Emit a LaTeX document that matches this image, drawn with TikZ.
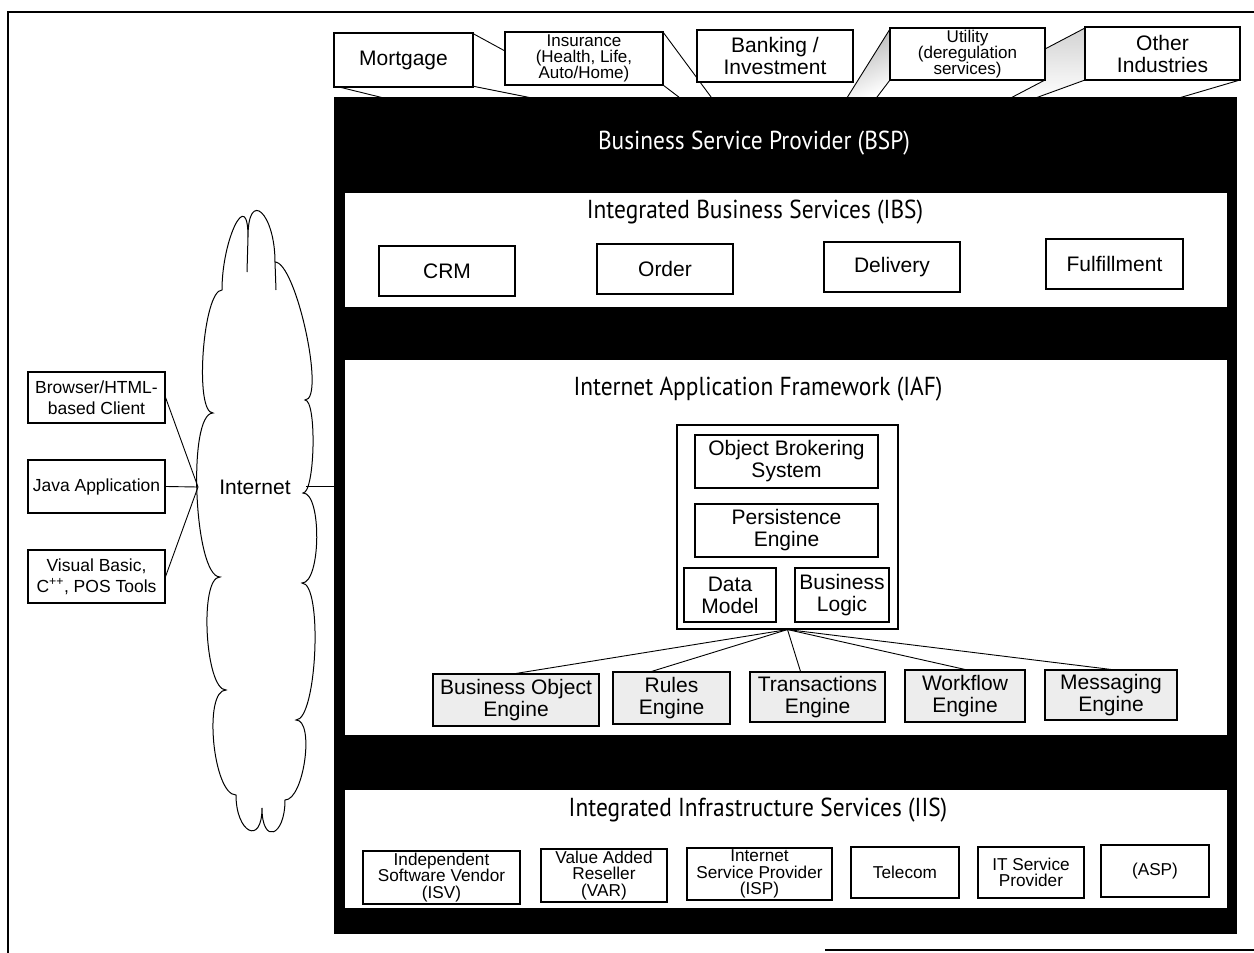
\documentclass[tikz,border=0pt]{standalone}
\usepackage{fontspec}
\setmainfont{Liberation Sans}
\newfontfamily\titlefont[FakeStretch=0.9]{PT Sans}
\usetikzlibrary{calc}

\tikzset{
  pane/.style={draw, line width=1.1pt, fill=white, align=center, inner sep=0pt},
  bigtxt/.style={font=\fontsize{21}{22}\selectfont},
  clienttxt/.style={font=\fontsize{17.5}{21}\selectfont},
  smalltxt/.style={font=\fontsize{17.2}{16.5}\selectfont},
  midtxt/.style={font=\fontsize{17}{16.2}\selectfont},
  engine/.style={pane, bigtxt, fill=gray!14},
  layer/.style={fill=white, inner sep=0pt},
  heading/.style={font=\titlefont\fontsize{26}{28}\selectfont, inner sep=0pt},
  wire/.style={line width=0.9pt},
  edge3d/.style={line width=0.9pt}
}

\begin{document}
\begin{tikzpicture}[x=1pt, y=-1pt]
\useasboundingbox (0,0) rectangle (1254,953);

% page frame
\draw[line width=2pt] (1254,12) -- (8,12) -- (8,953);
\draw[line width=1.6pt] (825,950) -- (1254,950);

% ---------- industry prisms (side and bottom faces) ----------
\shade[top color=gray!60, bottom color=white, shading angle=25]
  (890,29) -- (846,99) -- (875,99) -- (890,80) -- cycle;
\shade[top color=gray!35, bottom color=white]
  (1085,28) -- (1045,49) -- (1045,80) -- (1008,99) -- (1036,99) -- (1085,80) -- cycle;

\draw[edge3d] (472,33) -- (505,51);
\draw[edge3d] (472,86) -- (547,101);
\draw[edge3d] (335,86) -- (396,101);
\draw[edge3d] (663,32) -- (714,101);
\draw[edge3d] (663,85) -- (684,101);
\draw[edge3d] (890,29) -- (845,101);
\draw[edge3d] (890,80) -- (874,101);
\draw[edge3d] (1045,80) -- (1005,101);
\draw[edge3d] (1085,28) -- (1045,49);
\draw[edge3d] (1085,80) -- (1030,100);
\draw[edge3d] (1240,80) -- (1172,100);

% ---------- industry boxes ----------
\node[pane, bigtxt, minimum width=139, minimum height=54] (mort) at (403.5,60) {Mortgage};
\node[pane, midtxt, minimum width=158, minimum height=53] (ins) at (584,58.5) {Insurance\\(Health, Life,\\Auto/Home)};
\node[pane, bigtxt, minimum width=156, minimum height=52] (bank) at (775,56) {Banking /\\Investment};
\node[pane, midtxt, minimum width=155, minimum height=52] (util) at (967.5,54) {Utility\\(deregulation\\services)};
\node[pane, bigtxt, minimum width=155, minimum height=53] (other) at (1162.5,53.5) {Other\\Industries};

% ---------- business service provider block ----------
\node[fill=black, inner sep=0pt, minimum width=903, minimum height=837] (bsp) at (785.5,515.5) {};
\node[heading, text=white] (bsptitle) at (754,143) {Business Service Provider (BSP)};

% integrated business services
\node[layer, minimum width=882, minimum height=114] (ibs) at (786,250) {};
\node[heading] (ibstitle) at (755,212) {Integrated Business Services (IBS)};
\node[pane, bigtxt, minimum width=136, minimum height=50] (crm) at (447,271) {CRM};
\node[pane, bigtxt, minimum width=136, minimum height=50] (order) at (665,269) {Order};
\node[pane, bigtxt, minimum width=136, minimum height=50] (deliv) at (892,267) {Delivery};
\node[pane, bigtxt, minimum width=137, minimum height=50] (fulfil) at (1114.5,264) {Fulfillment};

% internet application framework
\node[layer, minimum width=882, minimum height=375] (iaf) at (786,547.5) {};
\node[heading] (iaftitle) at (758,389) {Internet Application Framework (IAF)};
\node[pane, minimum width=221, minimum height=204] (core) at (787.5,527) {};
\node[pane, bigtxt, minimum width=183, minimum height=53] (obs) at (786.5,461.5) {Object Brokering\\System};
\node[pane, bigtxt, minimum width=183, minimum height=53] (pers) at (786.5,530.5) {Persistence\\Engine};
\node[pane, bigtxt, minimum width=92, minimum height=54] (dm) at (730,595) {Data\\Model};
\node[pane, bigtxt, minimum width=94, minimum height=54] (bl) at (842,595) {Business\\Logic};

\node[engine, minimum width=166, minimum height=52] (boe) at (516,700) {Business Object\\Engine};
\node[engine, minimum width=117, minimum height=52] (rules) at (671.5,698) {Rules\\Engine};
\node[engine, minimum width=135, minimum height=50] (trans) at (817.5,697) {Transactions\\Engine};
\node[engine, minimum width=120, minimum height=52] (wf) at (965,696) {Workflow\\Engine};
\node[engine, minimum width=132, minimum height=50] (msg) at (1111,695) {Messaging\\Engine};

\draw[wire] (core.south) -- (boe.north);
\draw[wire] (core.south) -- ([xshift=-20pt]rules.north);
\draw[wire] (core.south) -- ([xshift=-17pt]trans.north);
\draw[wire] (core.south) -- (wf.north);
\draw[wire] (core.south) -- (msg.north);

% integrated infrastructure services
\node[layer, minimum width=882, minimum height=118] (iis) at (786,849) {};
\node[heading] (iistitle) at (758,810) {Integrated Infrastructure Services (IIS)};
\node[pane, smalltxt, minimum width=157, minimum height=53] (isv) at (441.5,877.5) {Independent\\Software Vendor\\(ISV)};
\node[pane, smalltxt, minimum width=126, minimum height=53] (var) at (604,875.5) {Value Added\\Reseller\\(VAR)};
\node[pane, smalltxt, minimum width=145, minimum height=52] (isp) at (759.5,874) {Internet\\Service Provider\\(ISP)};
\node[pane, smalltxt, minimum width=108, minimum height=51] (tel) at (905,872.5) {Telecom};
\node[pane, smalltxt, minimum width=106, minimum height=51] (itsp) at (1031,872.5) {IT Service\\Provider};
\node[pane, smalltxt, minimum width=108, minimum height=52] (asp) at (1155,871) {(ASP)};

% ---------- internet cloud ----------
\draw[line width=1pt, fill=white]
  (248,237) .. controls (248,188) and (275,213) .. (275,262)
  .. controls (296,262) and (326,400) .. (305,400)
  .. controls (317,400) and (315,493) .. (303,493)
  .. controls (322,493) and (321,583) .. (302,583)
  .. controls (323,583) and (317,720) .. (296,720)
  .. controls (315,720) and (304,800) .. (285,800)
  .. controls (285,837) and (262,845) .. (262,808)
  .. controls (262,846) and (236,833) .. (236,795)
  .. controls (213,795) and (203,690) .. (226,690)
  .. controls (205,690) and (199,577) .. (220,577)
  .. controls (194,577) and (187,413) .. (213,413)
  .. controls (194,413) and (203,290) .. (222,290)
  .. controls (222,239) and (248,186) .. (248,237) -- cycle;
\draw[line width=1pt] (248,237) -- (247,272);
\draw[line width=1pt] (275,262) -- (276,290);
\node[bigtxt] (net) at (255,487) {Internet};
\coordinate (netL) at (198,487);
\coordinate (netR) at (306,486);
\draw[wire] (netR) -- (netR -| bsp.west);

% ---------- clients ----------
\node[pane, clienttxt, minimum width=137, minimum height=51] (browser) at (96.5,397.5) {Browser/HTML-\\based Client};
\node[pane, clienttxt, minimum width=137, minimum height=53] (java) at (96.5,486.5) {Java Application};
\node[pane, clienttxt, minimum width=137, minimum height=53] (vb) at (96.5,576.5) {Visual Basic,\\C\textsuperscript{++}, POS Tools};
\draw[wire] (browser.east) -- (netL);
\draw[wire] (java.east) -- (netL);
\draw[wire] (vb.east) -- (netL);

\end{tikzpicture}
\end{document}
